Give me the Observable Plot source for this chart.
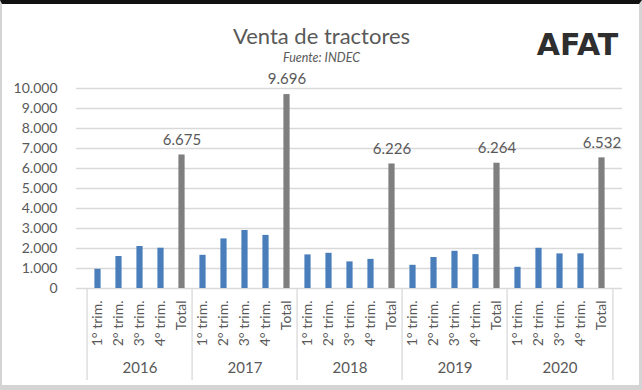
<!DOCTYPE html>
<html>
<head>
<meta charset="utf-8">
<script src="https://cdn.jsdelivr.net/npm/d3@7"></script>
<script src="https://cdn.jsdelivr.net/npm/@observablehq/plot@0.6"></script>
<style>
  html, body { margin: 0; padding: 0; background: #fff; }
  #wrap { position: relative; width: 642px; height: 390px; overflow: hidden; }
  #border { position: absolute; left: 0; top: 0; right: 0; bottom: 0; box-sizing: border-box;
    border-top: 4px solid #111; border-left: 2px solid #d4d4d4; border-right: 3px solid #d4d4d4;
    border-bottom: 5px solid #d4d4d4; pointer-events: none; }
</style>
</head>
<body>
<div id="wrap"><div id="border"></div></div>
<script>
const years = ["2016", "2017", "2018", "2019", "2020"];
const periods = ["1° trim.", "2° trim.", "3° trim.", "4° trim.", "Total"];
const ventas2016 = [960, 1600, 2100, 2015, 6675];
const ventas2017 = [1660, 2480, 2900, 2656, 9696];
const ventas2018 = [1680, 1760, 1330, 1456, 6226];
const ventas2019 = [1160, 1550, 1860, 1694, 6264];
const ventas2020 = [1060, 2010, 1730, 1732, 6532];
const yTicks = [0, 1000, 2000, 3000, 4000, 5000, 6000, 7000, 8000, 9000, 10000];
const title = "Venta de tractores";
const subtitle = "Fuente: INDEC";
const logo = "AFAT";

const series = [ventas2016, ventas2017, ventas2018, ventas2019, ventas2020];
const rows = [];
years.forEach((yr, i) => periods.forEach((p, j) => rows.push({key: yr + "|" + p, year: yr, period: p, value: series[i][j]})));
const keys = rows.map(d => d.key);
const quarters = rows.filter(d => d.period !== "Total");
const totals = rows.filter(d => d.period === "Total");

const fmt = d3.formatLocale({decimal: ",", thousands: ".", grouping: [3], currency: ["$", ""]}).format(",d");

const W = 642, H = 390, ML = 76, MR = 20, MT = 88, MB = 102;
const step = (W - ML - MR) / keys.length;
const txt = "#595959", grid = "#d9d9d9";

const chart = Plot.plot({
  width: W, height: H,
  marginLeft: ML, marginRight: MR, marginTop: MT, marginBottom: MB,
  style: {fontFamily: "Lato", background: "transparent", color: txt, overflow: "visible"},
  x: {domain: keys, padding: 0, axis: null},
  y: {domain: [0, 10000], axis: null},
  marks: [
    Plot.gridY(yTicks, {stroke: grid, strokeOpacity: 1, strokeWidth: 1.3}),
    Plot.axisY(yTicks, {label: null, tickSize: 0, tickPadding: 19, tickFormat: fmt, fontSize: 14, fill: txt}),
    Plot.axisX({label: null, tickSize: 0, tickPadding: 12, tickRotate: -90, tickFormat: k => k.split("|")[1], fontSize: 14, fill: txt}),
    Plot.ruleX(years, {x: yr => yr + "|1° trim.", dx: -step / 2, y1: () => 0, y2: () => 0, insetBottom: -92, stroke: grid, strokeWidth: 1.3}),
    Plot.ruleX(["2020"], {x: yr => yr + "|Total", dx: step / 2, y1: () => 0, y2: () => 0, insetBottom: -92, stroke: grid, strokeWidth: 1.3}),
    Plot.text(years, {x: yr => yr + "|3° trim.", frameAnchor: "bottom", dy: 84, text: d => d, fontSize: 15, fill: txt}),
    Plot.barY(quarters, {x: "key", y: "value", fill: "#4a7ebb", insetLeft: 7.4, insetRight: 7.4}),
    Plot.barY(totals, {x: "key", y: "value", fill: "#7f7f7f", insetLeft: 7.4, insetRight: 7.4}),
    Plot.text(totals, {x: "key", y: "value", text: d => fmt(d.value), dy: -15, fontSize: 15, fill: txt}),
    Plot.text([title], {frameAnchor: "top", lineAnchor: "top", dx: -28, dy: -60, text: d => d, fontSize: 22, fill: txt}),
    Plot.text([subtitle], {frameAnchor: "top", lineAnchor: "top", dx: -28, dy: -35, text: d => d, fontSize: 12.5, fontStyle: "italic", fill: txt}),
    Plot.text([logo], {frameAnchor: "top", lineAnchor: "top", dx: 228, dy: -55, text: d => d, fontSize: 30, fontWeight: "bold", fontFamily: "DejaVu Sans", fill: "#2f2f2f"})
  ]
});
document.getElementById("wrap").prepend(chart);
</script>
</body>
</html>
